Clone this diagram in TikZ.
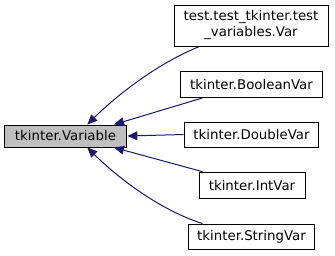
\documentclass[tikz,border=0pt]{standalone}
\usepackage{fontspec}
\setmainfont{DejaVu Sans}
\usetikzlibrary{arrows.meta}

\definecolor{arrowblue}{HTML}{191970}
\definecolor{basegray}{HTML}{BFBFBF}

\begin{document}
\begin{tikzpicture}[
    x=0.75pt, y=-0.75pt,
    font=\fontsize{10}{12}\selectfont,
    % Styles
    cls/.style={ % Derived class box
        draw=black,
        fill=white,
        line width=0.75pt,
        inner sep=0pt,
        align=center
    },
    base/.style={ % Base class box
        cls,
        fill=basegray
    },
    arrow/.style={ % Inheritance arrows
        -{Triangle[length=7.5pt, width=6.5pt]},
        arrowblue,
        line width=0.75pt
    }
]
    \useasboundingbox (0,0) rectangle (335,255);

    % Class boxes
    \node[base, minimum width=92pt, minimum height=16.5pt] (variable) at (65.5,136) {tkinter.Variable};
    \node[cls, minimum width=115.5pt, minimum height=30.75pt] (testvar) at (251,25.5) {test.test\_tkinter.test\\\_variables.Var};
    \node[cls, minimum width=107pt, minimum height=19.5pt] (boolvar) at (251.5,84.5) {tkinter.BooleanVar};
    \node[cls, minimum width=101pt, minimum height=18.75pt] (doublevar) at (251.5,134.5) {tkinter.DoubleVar};
    \node[cls, minimum width=79.5pt, minimum height=20pt] (intvar) at (252,185.5) {tkinter.IntVar};
    \node[cls, minimum width=95pt, minimum height=18.75pt] (stringvar) at (251.5,236.5) {tkinter.StringVar};

    % Inheritance edges
    \draw[arrow] ([xshift=19.5pt]testvar.south west) .. controls (160,62) and (118,94) .. ([xshift=-30pt]variable.north east);
    \draw[arrow] ([xshift=17pt]boolvar.south west) -- ([xshift=-10pt]variable.north east);
    \draw[arrow] (doublevar.west) -- (variable.east);
    \draw[arrow] ([xshift=3pt]intvar.north west) -- ([xshift=-10pt]variable.south east);
    \draw[arrow] ([xshift=11pt]stringvar.north west) .. controls (160,210) and (118,178) .. ([xshift=-30pt]variable.south east);
\end{tikzpicture}
\end{document}
